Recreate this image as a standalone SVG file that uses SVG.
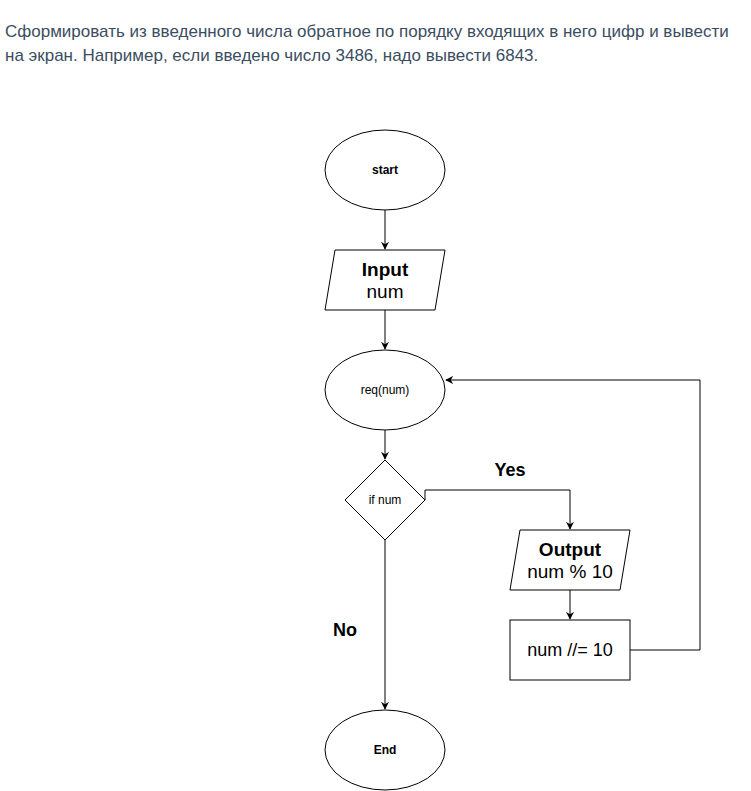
<svg xmlns="http://www.w3.org/2000/svg" width="751" height="791" viewBox="0 0 751 791">
<defs>
<marker id="arr" viewBox="0 0 10 10" refX="9" refY="5" markerWidth="8" markerHeight="8" markerUnits="userSpaceOnUse" orient="auto">
<path d="M0,0 L10,5 L0,10 L3,5 Z" fill="#000"/>
</marker>
</defs>
<style>
.shape{fill:#fff;stroke:#000;stroke-width:1}
.edge{fill:none;stroke:#000;stroke-width:1;marker-end:url(#arr)}
text{font-family:"Liberation Sans",Arial,sans-serif;fill:#000;text-anchor:middle}
.s{font-size:12px}
.b{font-weight:bold}
.l{font-size:19px}
.m{font-size:18px}
.title{font-size:17px;fill:#3b4d61;text-anchor:start}
</style>
<rect width="751" height="791" fill="#fff"/>
<g id="title">
<text class="title" x="5" y="37">Сформировать из введенного числа обратное по порядку входящих в него цифр и вывести</text>
<text class="title" x="5" y="61">на экран. Например, если введено число 3486, надо вывести 6843.</text>
</g>
<g id="connectors">
<path class="edge" d="M385,210 L385,249"/>
<path class="edge" d="M385,310 L385,349"/>
<path class="edge" d="M385,430 L385,459"/>
<path class="edge" d="M425,500 L425,490 L570,490 L570,529"/>
<path class="edge" d="M570,590 L570,619"/>
<path class="edge" d="M630,650 L700,650 L700,380 L446,380"/>
<path class="edge" d="M385,540 L385,709"/>
<text class="m b" x="510" y="476">Yes</text>
<text class="m b" x="345" y="636">No</text>
</g>
<g id="start">
<ellipse class="shape" cx="385" cy="170" rx="60" ry="40"/>
<text class="s b" x="385" y="174">start</text>
</g>
<g id="input">
<polygon class="shape" points="335,250 445,250 435,310 325,310"/>
<text class="l b" x="385" y="276">Input</text>
<text class="l" x="385" y="298">num</text>
</g>
<g id="req">
<ellipse class="shape" cx="385" cy="390" rx="60" ry="40"/>
<text class="s" x="385" y="394">req(num)</text>
</g>
<g id="ifnum">
<polygon class="shape" points="385,460 425,500 385,540 345,500"/>
<text class="s" x="385" y="504">if num</text>
</g>
<g id="output">
<polygon class="shape" points="520,530 630,530 620,590 510,590"/>
<text class="l b" x="570" y="556">Output</text>
<text class="l" x="570" y="578">num % 10</text>
</g>
<g id="divide">
<rect class="shape" x="510" y="620" width="120" height="60"/>
<text class="m" x="570" y="656">num //= 10</text>
</g>
<g id="end">
<ellipse class="shape" cx="385" cy="750" rx="60" ry="40"/>
<text class="s b" x="385" y="754">End</text>
</g>
</svg>
